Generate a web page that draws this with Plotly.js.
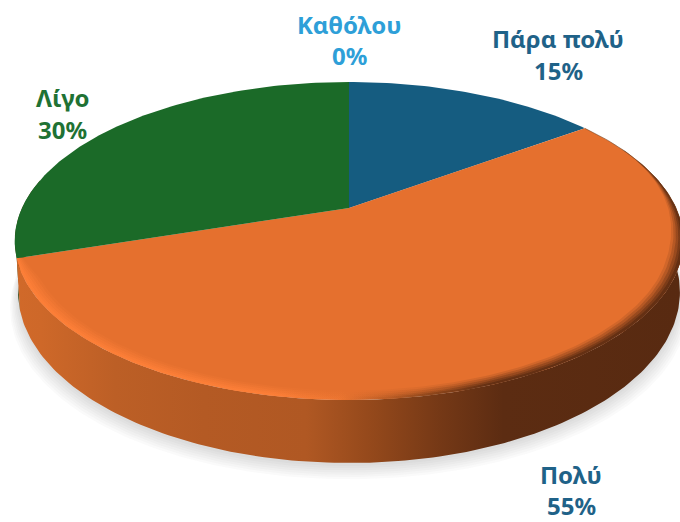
<!DOCTYPE html>
<html><head><meta charset="utf-8">
<script src="https://cdn.plot.ly/plotly-3.0.1.min.js"></script>
<style>html,body{margin:0;padding:0;background:#fff}</style></head>
<body><div id="chart" style="width:680px;height:522px"></div>
<script>
// Data
const categories = ["Πάρα πολύ", "Πολύ", "Λίγο", "Καθόλου"];
const percentValues = [15, 55, 30, 0];
// Style and layout
const sliceColors = ["#155C80", "#E5702E", "#1B6A28", "#2E9FD8"];
const labelColors = ["#1F6288", "#1F6288", "#1F7234", "#2E9FD8"];
const labelNameAt = [[558, 38], [571, 474], [62, 97], [349, 24]];
const labelPctAt  = [[558, 70], [571, 505], [62, 129], [349, 55]];
const FONT = "'Noto Sans', sans-serif";

// Projection of the pie disc (view tilt + perspective) into pixel-valued axes
const CX = 349, CY = 208, R = 327, A = 109, C = -0.2075, DEPTH = 63, SHRINK = 0.99;
function topRim(frac, r) {
  const th = frac * 2 * Math.PI, u = r * Math.sin(th), v = -r * Math.cos(th), w = 1 + C * v;
  return [CX + R * u / w, (CY + A * v) / w];
}
function bottomRim(frac, r) {
  const p = topRim(frac, r);
  return [CX + (p[0] - CX) * SHRINK, p[1] + DEPTH * (0.62 + 0.38 * (p[1] - 82) / 318)];
}
function arc(fn, f0, f1, r) {
  const n = Math.max(2, Math.round(Math.abs(f1 - f0) * 360)), out = [];
  for (let i = 0; i <= n; i++) out.push(fn(f0 + (f1 - f0) * i / n, r));
  return out;
}
function poly(pts, extra) {
  return Object.assign({
    type: "scatter", mode: "lines", fill: "toself", hoverinfo: "skip", showlegend: false,
    x: pts.map(p => p[0]), y: pts.map(p => p[1]), line: { width: 0 }
  }, extra);
}
const traces = [];

// soft shadow
for (let i = 0; i < 7; i++) {
  const k = 1 + i * 0.004, dy = 3 + i * 2.2;
  const pts = arc((f, r) => { const p = bottomRim(f, r); return [CX + (p[0] - CX) * k, p[1] + dy]; }, 0.03, 0.97, 1);
  traces.push(poly(pts, { fillcolor: "rgba(90,90,90,0.028)" }));
}

// side wall
const wallEnd = 0.70;
const wallStart = 0.22;
traces.push(poly(arc(bottomRim, 0.70, 0.78, 1).concat(arc(topRim, 0.78, 0.70, 1)), { fillcolor: "#3F4A1A" }));
traces.push(poly(arc(topRim, wallStart, wallEnd, 1).concat(arc(bottomRim, wallEnd, wallStart, 1)), {
  fillgradient: {
    type: "horizontal", start: 0, stop: 680,
    colorscale: [[0, "#D26A2A"], [0.06, "#CE6829"], [0.17, "#BC5F26"], [0.3, "#B45A24"], [0.45, "#B05823"],
                 [0.55, "#93481B"], [0.65, "#743816"], [0.74, "#5C2C12"], [1, "#582A11"]]
  }
}));

// top slices, from the values
let cum = 0;
const total = percentValues.reduce((a, b) => a + b, 0);
percentValues.forEach((val, i) => {
  const f0 = cum / total, f1 = (cum + val) / total;
  cum += val;
  const pts = [[CX, CY]].concat(arc(topRim, f0, f1, 1)).concat([[CX, CY]]);
  traces.push(poly(pts, { fillcolor: sliceColors[i], name: categories[i],
    hoverinfo: "text", text: categories[i] + " " + val + "%", hoveron: "fills" }));
});

// bevel along the near rim: light at left, dark at right, tapering off behind the right side
const rimStops = (a) => [[0, `rgba(255,128,56,${a})`], [0.4, `rgba(255,128,56,${a})`], [0.5, `rgba(240,120,50,${a * 0.5})`],
  [0.62, `rgba(110,55,20,${a * 0.55})`], [0.72, `rgba(85,40,16,${a})`], [1, `rgba(85,40,16,${a})`]];
function taperedInner(f, inset) {
  const t = Math.min(1, Math.max(0, (f - 0.17) / 0.14));
  const s = Math.min(1, Math.max(0, (0.70 - f) / 0.02));
  return topRim(f, 1 - inset * t * t * (3 - 2 * t) * (0.4 + 0.6 * s));
}
[[0.04, 0.14], [0.032, 0.22], [0.024, 0.3], [0.016, 0.42], [0.009, 0.6]].forEach(([inset, a]) => {
  const inner = [];
  for (let f = 0.70; f >= 0.17; f -= 0.0025) inner.push(taperedInner(f, inset));
  traces.push(poly(arc(topRim, 0.17, 0.70, 1).concat(inner), {
    fillgradient: { type: "horizontal", start: 0, stop: 680, colorscale: rimStops(a) }
  }));
});
// thin dark edge along the upper right of the rim
const edgePts = arc(topRim, 0.15, 0.26, 1);
traces.push({ type: "scatter", mode: "lines", hoverinfo: "skip", showlegend: false,
  x: edgePts.map(p => p[0]), y: edgePts.map(p => p[1]),
  line: { color: "rgba(110,60,25,0.55)", width: 1 } });

// labels
const annotations = [];
categories.forEach((c, i) => {
  annotations.push({ x: labelNameAt[i][0], y: labelNameAt[i][1], xref: "x", yref: "y", text: "<b>" + c + "</b>",
    showarrow: false, font: { family: FONT, size: 24, color: labelColors[i] } });
  annotations.push({ x: labelPctAt[i][0], y: labelPctAt[i][1], xref: "x", yref: "y", text: "<b>" + percentValues[i] + "%</b>",
    showarrow: false, font: { family: FONT, size: 24, color: labelColors[i] } });
});

Plotly.newPlot("chart", traces, {
  width: 680, height: 522, margin: { l: 0, r: 0, t: 0, b: 0 },
  paper_bgcolor: "#fff", plot_bgcolor: "#fff", showlegend: false,
  xaxis: { range: [0, 680], visible: false, fixedrange: true },
  yaxis: { range: [522, 0], visible: false, fixedrange: true },
  annotations
}, { displayModeBar: false });
</script></body></html>
